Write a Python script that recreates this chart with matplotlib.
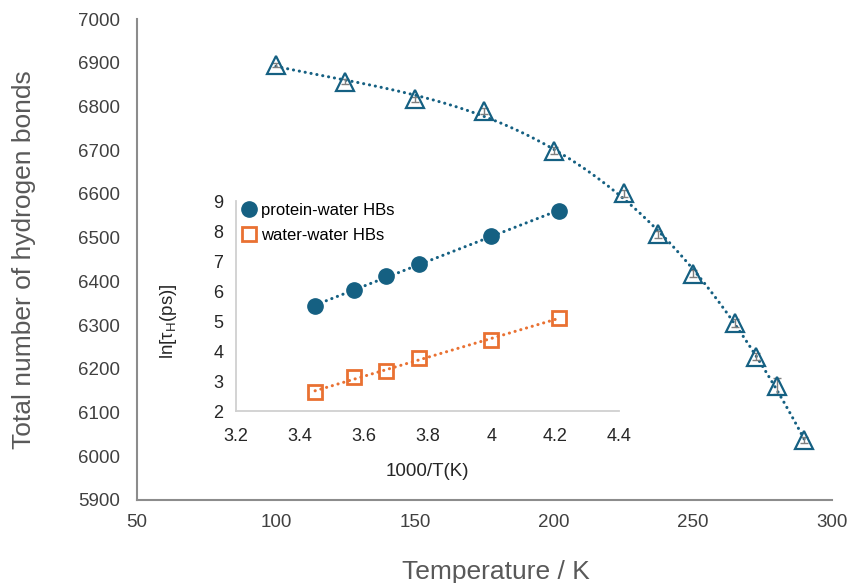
import matplotlib
matplotlib.use("Agg")
import matplotlib.pyplot as plt
import numpy as np

plt.rcParams['font.family'] = ['Liberation Sans', 'DejaVu Sans']

# main plot: total hydrogen bonds vs temperature
temps = [100, 125, 150, 175, 200, 225, 237.5, 250, 265, 272.5, 280, 290]
total_hb = [6895, 6857, 6816, 6790, 6699, 6601, 6508, 6417, 6304, 6228, 6161, 6037]
total_err = [4, 5, 5, 7, 8, 7, 8, 8, 9, 8, 19, 6]

# inset: ln(tau_H) vs 1000/T
inv_T = [3.448, 3.571, 3.670, 3.774, 4.000, 4.211]
ln_protein = [5.50, 6.03, 6.50, 6.90, 7.83, 8.67]
ln_water = [2.63, 3.13, 3.33, 3.77, 4.37, 5.10]

blue = '#156082'
orange = '#E97132'
dots = (0, (0.05, 1.9))

fig = plt.figure(figsize=(8.5, 5.83), dpi=100)
ax = fig.add_axes([0.161, 0.1424, 0.818, 0.825])

# polynomial trendline like the spreadsheet one
c = np.polyfit(temps, total_hb, 3)
tt = np.linspace(temps[0], temps[-1], 200)
ax.plot(tt, np.polyval(c, tt), color=blue, lw=2.2, linestyle=dots,
        dash_capstyle='round', zorder=2)
ax.errorbar(temps, total_hb, yerr=total_err, fmt='none', ecolor='#7F7F7F',
            elinewidth=1, capsize=3, capthick=1, zorder=3)
ax.plot(temps, total_hb, linestyle='none', marker='^', markersize=13,
        markerfacecolor='none', markeredgecolor=blue, markeredgewidth=1.6, zorder=4)

ax.set_xlim(50, 300)
ax.set_ylim(5900, 7000)
ax.set_xticks(np.arange(50, 301, 50))
ax.set_yticks(np.arange(5900, 7001, 100))
for s in ['top', 'right']:
    ax.spines[s].set_visible(False)
for s in ['left', 'bottom']:
    ax.spines[s].set_color('#8C8C8C')
    ax.spines[s].set_linewidth(1.5)
ax.tick_params(axis='both', length=0, labelsize=13.5, labelcolor='#404040')
ax.tick_params(axis='y', pad=12)
ax.tick_params(axis='x', pad=10)
ax.set_xlabel('Temperature / K', fontsize=19, color='#595959')
ax.set_ylabel('Total number of hydrogen bonds', fontsize=19, color='#595959')
ax.xaxis.set_label_coords(0.517, -0.125)
ax.yaxis.set_label_coords(-0.145, 0.5)

# inset
ins = fig.add_axes([0.2776, 0.295, 0.4506, 0.36])
ins.patch.set_alpha(0)
for yv, col, mk, lab in [(ln_protein, blue, 'o', 'protein-water HBs'),
                         (ln_water, orange, 's', 'water-water HBs')]:
    k = np.polyfit(inv_T, yv, 1)
    xx = np.linspace(inv_T[0], inv_T[-1], 50)
    ins.plot(xx, np.polyval(k, xx), color=col, lw=2.2, linestyle=dots,
             dash_capstyle='round', zorder=2)
    if mk == 'o':
        ins.plot(inv_T, yv, linestyle='none', marker='o', markersize=11,
                 color=col, label=lab, zorder=3)
    else:
        ins.plot(inv_T, yv, linestyle='none', marker='s', markersize=10,
                 markerfacecolor='none', markeredgecolor=col,
                 markeredgewidth=2, label=lab, zorder=3)

ins.set_xlim(3.2, 4.4)
ins.set_ylim(2, 9)
ins.set_xticks([3.2, 3.4, 3.6, 3.8, 4.0, 4.2, 4.4])
ins.set_xticklabels(['3.2', '3.4', '3.6', '3.8', '4', '4.2', '4.4'])
ins.set_yticks(range(2, 10))
for s in ['top', 'right']:
    ins.spines[s].set_visible(False)
for s in ['left', 'bottom']:
    ins.spines[s].set_color('#D0D0D0')
    ins.spines[s].set_linewidth(1.3)
ins.tick_params(axis='both', length=0, labelsize=13, labelcolor='#262626')
ins.tick_params(axis='y', pad=9)
ins.tick_params(axis='x', pad=12)
ins.set_xlabel('1000/T(K)', fontsize=13.5, color='#262626')
ins.set_ylabel(r'ln[$\mathregular{\tau_H}$(ps)]', fontsize=13.5, color='#262626')
ins.xaxis.set_label_coords(0.499, -0.25)
ins.yaxis.set_label_coords(-0.15, 0.43)
ins.legend(loc='upper left', bbox_to_anchor=(-0.01, 1.04), frameon=False,
           fontsize=12, handlelength=0.8, handletextpad=0.35,
           labelspacing=0.6, borderaxespad=0.2)

fig.savefig('out.png', dpi=100)
